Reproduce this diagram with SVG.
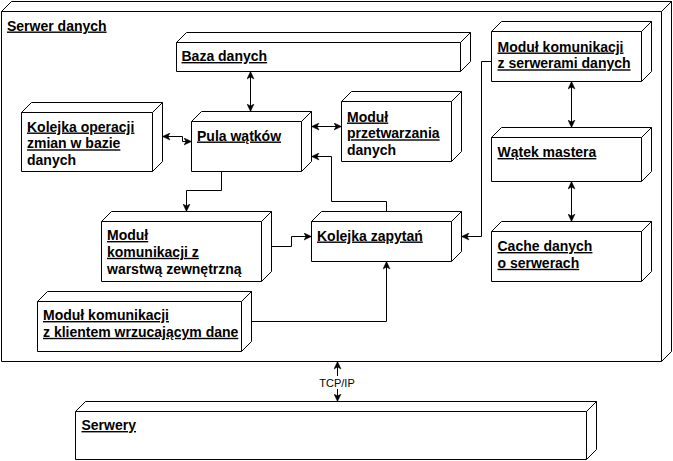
<svg xmlns="http://www.w3.org/2000/svg" width="673" height="461" viewBox="0 0 673 461">
<style>
.cube{fill:#fff;stroke:#000;stroke-width:1}
.edge{fill:none;stroke:#000;stroke-width:1}
.t{font-family:"Liberation Sans",Arial,Helvetica,sans-serif;font-size:14px;font-weight:bold;fill:#000}
.u{text-decoration:underline}
.lbl{font-family:"Liberation Sans",Arial,Helvetica,sans-serif;font-size:11px;fill:#000}
</style>
<defs>
<marker id="arr" viewBox="-8 -4 9 8" refX="0" refY="0" markerWidth="9" markerHeight="8" markerUnits="userSpaceOnUse" orient="auto-start-reverse">
<path d="M0,0 L-7.5,-3.5 L-5.5,0 L-7.5,3.5 Z" fill="#000" stroke="#000" stroke-width="0.5"/>
</marker>
</defs>
<rect width="673" height="461" fill="#fff"/>

<g id="serwer-danych">
<path class="cube" d="M1.5,11.5 L11.5,1.5 L671.5,1.5 L671.5,351.5 L661.5,361.5 L1.5,361.5 Z M1.5,11.5 L661.5,11.5 L661.5,361.5 M661.5,11.5 L671.5,1.5"/>
<text class="t u" x="7" y="30.5">Serwer danych</text>
</g>

<g id="baza-danych">
<path class="cube" d="M176.5,42.5 L186.5,32.5 L470.5,32.5 L470.5,61.5 L460.5,71.5 L176.5,71.5 Z M176.5,42.5 L460.5,42.5 L460.5,71.5 M460.5,42.5 L470.5,32.5"/>
<text class="t u" x="181.5" y="61">Baza danych</text>
</g>

<g id="kolejka-operacji">
<path class="cube" d="M21.5,112.5 L31.5,102.5 L162.5,102.5 L162.5,161.5 L152.5,171.5 L21.5,171.5 Z M21.5,112.5 L152.5,112.5 L152.5,171.5 M152.5,112.5 L162.5,102.5"/>
<text class="t u" x="27" y="131.5">Kolejka operacji</text>
<text class="t u" x="27" y="148.3">zmian w bazie</text>
<text class="t" x="27" y="165.1">danych</text>
</g>

<g id="pula-watkow">
<path class="cube" d="M191.5,121.5 L201.5,111.5 L311.5,111.5 L311.5,161.5 L301.5,171.5 L191.5,171.5 Z M191.5,121.5 L301.5,121.5 L301.5,171.5 M301.5,121.5 L311.5,111.5"/>
<text class="t u" x="197" y="140.5">Pula wątków</text>
</g>

<g id="modul-przetwarzania">
<path class="cube" d="M341.5,101.5 L351.5,91.5 L461.5,91.5 L461.5,151.5 L451.5,161.5 L341.5,161.5 Z M341.5,101.5 L451.5,101.5 L451.5,161.5 M451.5,101.5 L461.5,91.5"/>
<text class="t u" x="347" y="121.5">Moduł</text>
<text class="t u" x="347" y="138.3">przetwarzania</text>
<text class="t" x="347" y="155.1">danych</text>
</g>

<g id="modul-serwery">
<path class="cube" d="M491.5,31.5 L501.5,21.5 L651.5,21.5 L651.5,71.5 L641.5,81.5 L491.5,81.5 Z M491.5,31.5 L641.5,31.5 L641.5,81.5 M641.5,31.5 L651.5,21.5"/>
<text class="t u" x="497.5" y="51.5">Moduł komunikacji</text>
<text class="t u" x="497.5" y="68.3">z serwerami danych</text>
</g>

<g id="watek-mastera">
<path class="cube" d="M491.5,137.5 L501.5,127.5 L651.5,127.5 L651.5,171.5 L641.5,181.5 L491.5,181.5 Z M491.5,137.5 L641.5,137.5 L641.5,181.5 M641.5,137.5 L651.5,127.5"/>
<text class="t u" x="497.5" y="157">Wątek mastera</text>
</g>

<g id="cache">
<path class="cube" d="M491.5,231.5 L501.5,221.5 L651.5,221.5 L651.5,271.5 L641.5,281.5 L491.5,281.5 Z M491.5,231.5 L641.5,231.5 L641.5,281.5 M641.5,231.5 L651.5,221.5"/>
<text class="t u" x="497.5" y="251">Cache danych</text>
<text class="t u" x="497.5" y="267.8">o serwerach</text>
</g>

<g id="kolejka-zapytan">
<path class="cube" d="M311.5,221.5 L321.5,211.5 L461.5,211.5 L461.5,251.5 L451.5,261.5 L311.5,261.5 Z M311.5,221.5 L451.5,221.5 L451.5,261.5 M451.5,221.5 L461.5,211.5"/>
<text class="t u" x="317" y="240.5">Kolejka zapytań</text>
</g>

<g id="modul-warstwa">
<path class="cube" d="M101.5,221.5 L111.5,211.5 L271.5,211.5 L271.5,271.5 L261.5,281.5 L101.5,281.5 Z M101.5,221.5 L261.5,221.5 L261.5,281.5 M261.5,221.5 L271.5,211.5"/>
<text class="t u" x="107" y="240">Moduł</text>
<text class="t u" x="107" y="256.8">komunikacji z</text>
<text class="t" x="107" y="273.6">warstwą zewnętrzną</text>
</g>

<g id="modul-klient">
<path class="cube" d="M37.5,301.5 L47.5,291.5 L251.5,291.5 L251.5,341.5 L241.5,351.5 L37.5,351.5 Z M37.5,301.5 L241.5,301.5 L241.5,351.5 M241.5,301.5 L251.5,291.5"/>
<text class="t u" x="43" y="320">Moduł komunikacji</text>
<text class="t u" x="43" y="336.8">z klientem wrzucającym dane</text>
</g>

<g id="serwery">
<path class="cube" d="M75.5,411.5 L85.5,401.5 L596.5,401.5 L596.5,449.5 L586.5,459.5 L75.5,459.5 Z M75.5,411.5 L586.5,411.5 L586.5,459.5 M586.5,411.5 L596.5,401.5"/>
<text class="t u" x="81.5" y="430">Serwery</text>
</g>

<g id="connectors">
<path class="edge" d="M250.5,71.5 L250.5,111.5" marker-start="url(#arr)" marker-end="url(#arr)"/>
<path class="edge" d="M162.5,136.5 L182.5,136.5 L182.5,141.5 L191.5,141.5" marker-start="url(#arr)" marker-end="url(#arr)"/>
<path class="edge" d="M311.5,126.5 L341.5,126.5" marker-start="url(#arr)" marker-end="url(#arr)"/>
<path class="edge" d="M386.5,211.5 L386.5,201.5 L331.5,201.5 L331.5,156.5 L311.5,156.5" marker-end="url(#arr)"/>
<path class="edge" d="M221.5,171.5 L221.5,190.5 L186.5,190.5 L186.5,211.5" marker-end="url(#arr)"/>
<path class="edge" d="M271.5,246.5 L291.5,246.5 L291.5,236.5 L311.5,236.5" marker-end="url(#arr)"/>
<path class="edge" d="M251.5,321.5 L386.5,321.5 L386.5,261.5" marker-end="url(#arr)"/>
<path class="edge" d="M491.5,61.5 L481.5,61.5 L481.5,236.5 L461.5,236.5" marker-end="url(#arr)"/>
<path class="edge" d="M571.5,81.5 L571.5,127.5" marker-start="url(#arr)" marker-end="url(#arr)"/>
<path class="edge" d="M571.5,181.5 L571.5,221.5" marker-start="url(#arr)" marker-end="url(#arr)"/>
<path class="edge" d="M337.5,361.5 L337.5,401.5" marker-start="url(#arr)" marker-end="url(#arr)"/>
<rect x="319" y="376" width="37" height="13" fill="#fff"/>
<text class="lbl" x="337" y="387" text-anchor="middle">TCP/IP</text>
</g>
</svg>
